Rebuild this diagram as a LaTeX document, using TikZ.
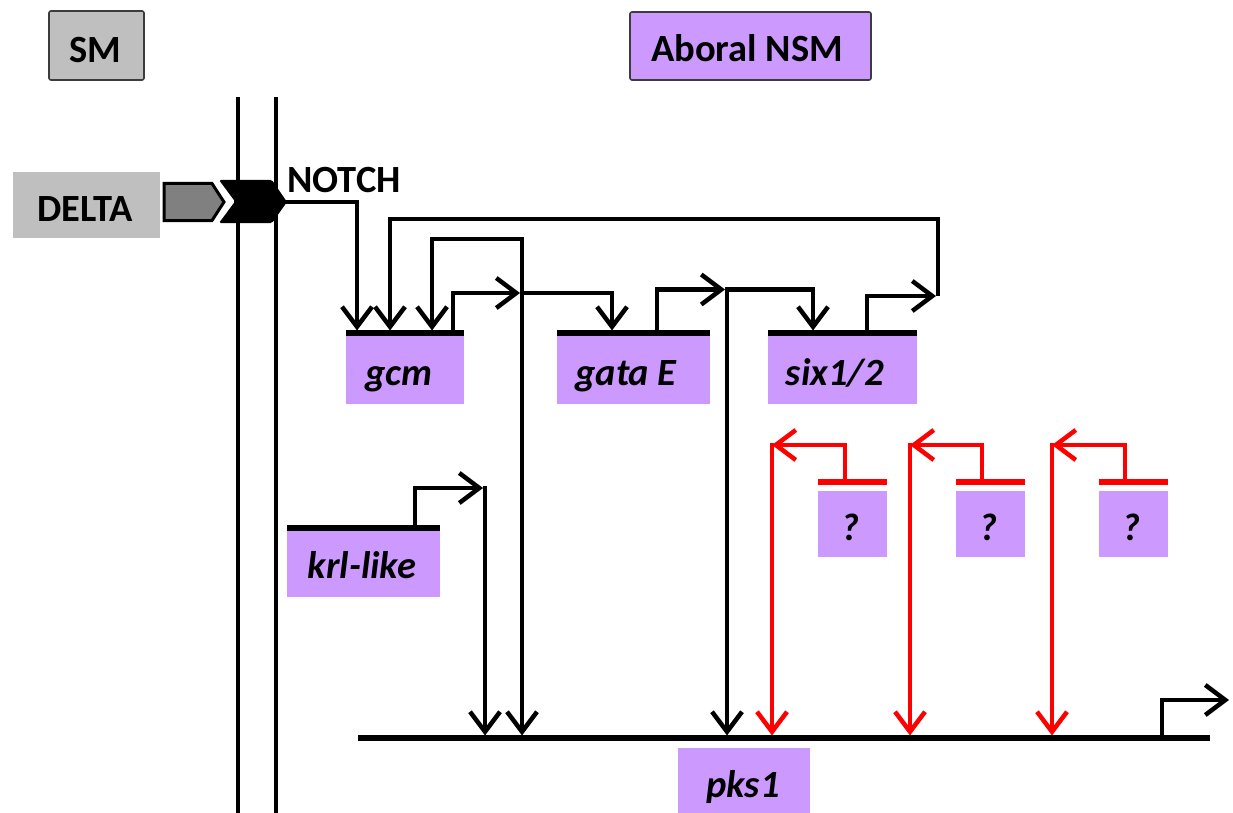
\documentclass[tikz,border=0pt]{standalone}
\usepackage{fontspec}
\setmainfont{Carlito}
\usetikzlibrary{arrows.meta,calc}
\definecolor{genepurple}{RGB}{204,153,255}
\definecolor{cellgray}{RGB}{191,191,191}
\definecolor{ligandgray}{RGB}{128,128,128}
\definecolor{borderdark}{RGB}{60,60,60}
\definecolor{repred}{RGB}{255,0,0}

\begin{document}
\begin{tikzpicture}[x=1pt,y=-1pt,
  every node/.style={inner sep=0pt, outer sep=0pt},
  lbl/.style={font=\fontsize{38.5}{42}\selectfont\bfseries, anchor=base},
  genelbl/.style={font=\fontsize{38.5}{42}\selectfont\bfseries\itshape, anchor=base},
  genebox/.style={fill=genepurple, minimum height=69pt},
  wire/.style={line width=4.5pt, line join=miter},
  tip/.tip={Straight Barb[length=20pt,width=30pt,line width=4.5pt]},
  arr/.style={wire, -tip},
  biarr/.style={wire, tip-tip},
  rarr/.style={arr, draw=repred},
  bar/.style={line width=5.5pt},
  membrane/.style={line width=3.2pt}
]
\clip (0,0) rectangle (1233,813);
\fill[white] (0,0) rectangle (1233,813);

% ---- cell labels ----
\node[draw=borderdark, line width=1.6pt, rounded corners=2pt, fill=cellgray,
      minimum width=95pt, minimum height=69pt] (smbox) at (96.5,45.5) {};
\node[lbl] (smtxt) at (95,63) {SM};
\node[draw=borderdark, line width=1.6pt, rounded corners=2pt, fill=genepurple,
      minimum width=241pt, minimum height=68pt] (nsmbox) at (750.5,46) {};
\node[lbl] (nsmtxt) at (747,62) {Aboral NSM};

% ---- membranes ----
\draw[membrane] (238,97) coordinate (m1top) -- (238,830) coordinate (m1bot);
\draw[membrane] (276,97) coordinate (m2top) -- (276,830) coordinate (m2bot);

% ---- DELTA ligand and NOTCH receptor ----
\node[fill=cellgray, minimum width=147pt, minimum height=66pt] (deltabox) at (86.5,205) {};
\node[lbl] (deltatxt) at (85,221) {DELTA};
\draw[line width=3pt, fill=ligandgray, line join=miter]
  (164,183.5) -- (212,183.5) -- (224,202) -- (212,220.5) -- (164,220.5) -- cycle;
\fill[black, rounded corners=1.5pt]
  (219,180) -- (272,180) -- (287,202) -- (272,223) -- (219,223) -- (235,201.5) -- cycle;
\coordinate (notchtip) at (286,202);
\node[lbl] (notchtxt) at (344,193) {NOTCH};

% ---- genes ----
\node[genebox, minimum width=118pt] (gcm) at (405,369.5) {};
\node[genelbl] (gcmtxt) at (399,385) {gcm};
\node[genebox, minimum width=153pt] (gataE) at (633.5,369.5) {};
\node[genelbl] (gataEtxt) at (626,385) {gata E};
\node[genebox, minimum width=149pt] (six) at (842.5,369.5) {};
\node[genelbl] (sixtxt) at (835,385) {six1/2};
\node[genebox, minimum width=153pt, minimum height=67pt] (krl) at (363.5,563.5) {};
\node[genelbl] (krltxt) at (362,578) {krl-like};
\node[genebox, minimum width=69pt, minimum height=66pt] (q1) at (852.5,524) {};
\node[genelbl] (q1txt) at (850,540) {?};
\node[genebox, minimum width=69pt, minimum height=66pt] (q2) at (990.5,524) {};
\node[genelbl] (q2txt) at (988,540) {?};
\node[genebox, minimum width=69pt, minimum height=66pt] (q3) at (1133,524) {};
\node[genelbl] (q3txt) at (1131,540) {?};
\node[genebox, minimum width=132pt, minimum height=82pt] (pks) at (744,789) {};
\node[genelbl] (pkstxt) at (743,797) {pks1};

% gene bars
\foreach \g in {gcm,gataE,six,krl}
  \draw[bar] ($(\g.north west)+(0,-2)$) -- ($(\g.north east)+(0,-2)$);
\foreach \g in {q1,q2,q3}
  \draw[bar, repred] ($(\g.north west)+(0,-9)$) -- ($(\g.north east)+(0,-9)$);
\coordinate (pksL) at (358,738);
\coordinate (pksR) at (1210,738);
\draw[bar] (pksL) -- (pksR);
\coordinate (pkstop) at (0,735.5);

% ---- junction points ----
\coordinate (gcmIn1) at (357,330.5);
\coordinate (gcmIn2) at (390,330.5);
\coordinate (gcmIn3) at (432,330.5);
\coordinate (gcmP)   at (453,333);
\coordinate (gcmHub) at (522,293);
\coordinate (gcmTop) at (522,239);
\coordinate (gataIn) at (612,330.5);
\coordinate (gataP)  at (657,333);
\coordinate (gataHub) at (727,289.5);
\coordinate (sixIn)  at (813,330.5);
\coordinate (sixP)   at (867,333);
\coordinate (sixHub) at (938,296);
\coordinate (loopTop) at (938,219);
\coordinate (krlP)   at (415,527);
\coordinate (krlHub) at (485,488);
\coordinate (pksP)   at (1162,738);
\coordinate (pksOut) at (1229,700);

% ---- activating connections ----
\draw[arr] (notchtip) -| (gcmIn1);
\draw[arr, shorten >=2pt] (gcmP) |- (gcmHub);
\draw[biarr] (gcmIn3) |- (gcmTop) -- (gcmTop |- pkstop);
\draw[arr] (gcmHub) -| (gataIn);
\draw[arr, shorten >=2pt] (gataP) |- (gataHub);
\draw[biarr] (sixIn) |- (gataHub) -- (gataHub |- pkstop);
\draw[arr, shorten >=2pt] (sixP) |- (sixHub);
\draw[arr] (sixHub) |- (gcmIn2 |- loopTop) -- (gcmIn2);
\draw[arr, shorten >=2pt] (krlP) |- (krlHub);
\draw[arr, line cap=rect] (krlHub) -- (krlHub |- pkstop);
\draw[arr] (pksP) |- (pksOut);

% ---- unknown inputs (red) ----
\foreach \q/\x/\px in {q1/772/845, q2/910/982, q3/1052/1125} {
  \coordinate (\q P) at (\px,482);
  \coordinate (\q Hub) at (\x,445);
  \draw[rarr, line cap=rect] (\q Hub) -- (\q Hub |- pkstop);
  \draw[rarr] (\q P) |- (\q Hub);
}
\end{tikzpicture}
\end{document}
